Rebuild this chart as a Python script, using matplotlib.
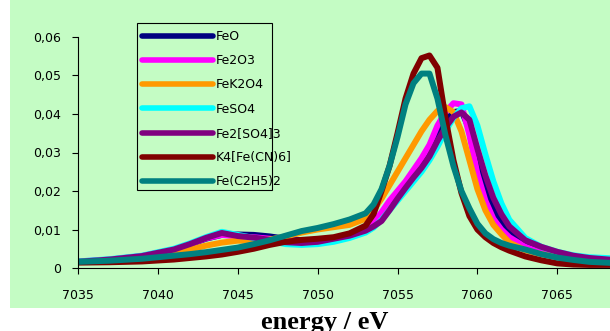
import matplotlib
matplotlib.use("Agg")
import matplotlib.pyplot as plt
from matplotlib.patches import Rectangle

energy = [7035, 7037, 7039, 7041, 7042, 7043, 7044, 7045, 7046, 7047, 7048, 7049, 7050, 7051, 7052,
          7053, 7053.5, 7054, 7054.5, 7055, 7055.5, 7056, 7056.5, 7057, 7057.5, 7058, 7058.5, 7059,
          7059.5, 7060, 7060.5, 7061, 7061.5, 7062, 7063, 7064, 7065, 7066, 7067, 7068.5]

FeO = [0.0016, 0.0021, 0.0030, 0.0047, 0.0061, 0.0076, 0.0086, 0.0087, 0.0086, 0.0082, 0.0076, 0.0072, 0.0072, 0.0076, 0.0084,
       0.0100, 0.0115, 0.0140, 0.0165, 0.0190, 0.0217, 0.0243, 0.0270, 0.0303, 0.0345, 0.0380, 0.0405, 0.0408,
       0.0360, 0.0275, 0.0205, 0.0152, 0.0118, 0.0093, 0.0062, 0.0044, 0.0034, 0.0027, 0.0023, 0.0021]
Fe2O3 = [0.0017, 0.0022, 0.0031, 0.0048, 0.0062, 0.0077, 0.0086, 0.0082, 0.0080, 0.0076, 0.0072, 0.0070, 0.0072, 0.0077, 0.0083,
         0.0100, 0.0118, 0.0145, 0.0175, 0.0200, 0.0225, 0.0255, 0.0285, 0.0320, 0.0370, 0.0405, 0.0428, 0.0425,
         0.0345, 0.0245, 0.0175, 0.0128, 0.0100, 0.0080, 0.0055, 0.0040, 0.0030, 0.0024, 0.0021, 0.0019]
FeK2O4 = [0.0016, 0.0020, 0.0027, 0.0039, 0.0048, 0.0058, 0.0066, 0.0071, 0.0070, 0.0074, 0.0082, 0.0092, 0.0100, 0.0106, 0.0112,
          0.0128, 0.0150, 0.0180, 0.0215, 0.0250, 0.0285, 0.0320, 0.0355, 0.0385, 0.0408, 0.0418, 0.0405, 0.0355,
          0.0280, 0.0205, 0.0150, 0.0112, 0.0088, 0.0066, 0.0046, 0.0036, 0.0028, 0.0023, 0.0020, 0.0018]
FeSO4 = [0.0017, 0.0023, 0.0032, 0.0050, 0.0064, 0.0080, 0.0094, 0.0086, 0.0078, 0.0070, 0.0062, 0.0060, 0.0062, 0.0068, 0.0078,
         0.0092, 0.0105, 0.0125, 0.0150, 0.0175, 0.0200, 0.0225, 0.0250, 0.0280, 0.0315, 0.0355, 0.0390, 0.0415,
         0.0420, 0.0370, 0.0295, 0.0225, 0.0168, 0.0125, 0.0078, 0.0055, 0.0042, 0.0033, 0.0028, 0.0025]
Fe2SO43 = [0.0016, 0.0022, 0.0031, 0.0048, 0.0062, 0.0078, 0.0091, 0.0083, 0.0079, 0.0073, 0.0067, 0.0065, 0.0068, 0.0076, 0.0084,
           0.0097, 0.0108, 0.0122, 0.0150, 0.0180, 0.0208, 0.0235, 0.0260, 0.0290, 0.0330, 0.0365, 0.0393, 0.0404,
           0.0385, 0.0310, 0.0240, 0.0182, 0.0140, 0.0108, 0.0072, 0.0055, 0.0042, 0.0032, 0.0026, 0.0021]
K4FeCN6 = [0.0014, 0.0015, 0.0017, 0.0022, 0.0026, 0.0030, 0.0035, 0.0042, 0.0050, 0.0060, 0.0068, 0.0073, 0.0076, 0.0080, 0.0090,
           0.0110, 0.0140, 0.0200, 0.0265, 0.0350, 0.0440, 0.0505, 0.0545, 0.0552, 0.0520, 0.0390, 0.0280, 0.0195,
           0.0135, 0.0100, 0.0080, 0.0065, 0.0054, 0.0045, 0.0030, 0.0020, 0.0012, 0.0009, 0.0008, 0.0008]
FeC2H52 = [0.0016, 0.0019, 0.0024, 0.0032, 0.0036, 0.0041, 0.0047, 0.0053, 0.0062, 0.0072, 0.0084, 0.0096, 0.0104, 0.0114, 0.0126,
           0.0142, 0.0165, 0.0205, 0.0265, 0.0340, 0.0425, 0.0480, 0.0505, 0.0505, 0.0440, 0.0345, 0.0265, 0.0200,
           0.0155, 0.0115, 0.0090, 0.0075, 0.0065, 0.0058, 0.0048, 0.0036, 0.0027, 0.0021, 0.0016, 0.0013]

labels = ["FeO", "Fe2O3", "FeK2O4", "FeSO4", "Fe2[SO4]3", "K4[Fe(CN)6]", "Fe(C2H5)2"]
series = [FeO, Fe2O3, FeK2O4, FeSO4, Fe2SO43, K4FeCN6, FeC2H52]
colors = ["#000080", "#FF00FF", "#FF9900", "#00FFFF", "#800080", "#800000", "#008080"]

xticks = [7035, 7040, 7045, 7050, 7055, 7060, 7065]
yticks = [0, 0.01, 0.02, 0.03, 0.04, 0.05, 0.06]
ytick_labels = ["0", "0,01", "0,02", "0,03", "0,04", "0,05", "0,06"]

bg = "#C4FCC4"
plt.rcParams['font.family'] = ['DejaVu Sans']

W, H = 610, 331
fig = plt.figure(figsize=(W / 100, H / 100), dpi=100)
fig.patch.set_facecolor("white")
fig.patches.append(Rectangle((10 / W, 1 - 308 / H), 600 / W, 308 / H, transform=fig.transFigure,
                             facecolor=bg, edgecolor="none", zorder=-10))
# legend frame (the text runs past it, as in the original)
fig.patches.append(Rectangle((137 / W, 1 - 190 / H), 135 / W, 167 / H, transform=fig.transFigure,
                             facecolor=bg, edgecolor="black", lw=0.8, zorder=-5))

ax = fig.add_axes([78 / W, 1 - 268 / H, (W - 78) / W, (268 - 37) / H])
ax.set_zorder(1)
ax.set_facecolor("none")
for y, c, lab in zip(series, colors, labels):
    ax.plot(energy, y, color=c, lw=4.3, label=lab, solid_joinstyle="round")

ax.set_xlim(7035, 7068.3)
ax.set_ylim(0, 0.06)
ax.set_xticks(xticks)
ax.set_xticklabels([str(t) for t in xticks], fontsize=9)
ax.set_yticks(yticks)
ax.set_yticklabels(ytick_labels, fontsize=9)
ax.spines["top"].set_visible(False)
ax.spines["right"].set_visible(False)
for s in ["left", "bottom"]:
    ax.spines[s].set_linewidth(0.8)
ax.tick_params(axis="both", direction="out", length=4, width=0.8, pad=8)
ax.tick_params(axis="x", pad=11)

leg = ax.legend(loc="upper left", bbox_to_anchor=(142 / W, 1 - 30 / H), bbox_transform=fig.transFigure,
                borderaxespad=0, borderpad=0, fontsize=9, handlelength=5.7, handletextpad=0.2,
                labelspacing=0.9, frameon=False)
for h in leg.get_lines():
    h.set_linewidth(4.0)
    h.set_solid_capstyle("round")

fig.text(325 / W, 2 / H, "energy / eV", ha="center", va="baseline", fontsize=19,
         fontweight="bold", family=["Liberation Serif", "DejaVu Serif"])

fig.savefig("out.png", dpi=100)
